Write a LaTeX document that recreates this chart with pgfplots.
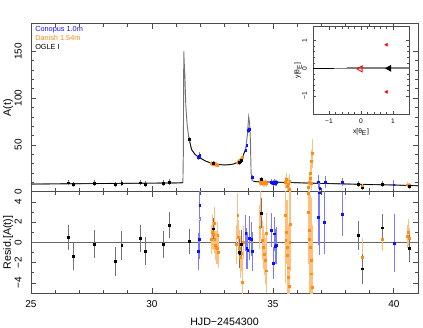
\documentclass[border=0pt]{standalone}
\usepackage{fontspec}
\setmainfont{Liberation Sans}
\usepackage{pgfplots}
\pgfplotsset{compat=1.18}
\usepackage{pgfplotstable}

\definecolor{conblue}{RGB}{15,15,255}
\definecolor{danorange}{RGB}{255,140,20}

% model light curve
\pgfplotstableread{
x A
25.0 8.2
26.0 8.4
27.0 8.6
28.0 8.8
29.0 9.0
30.0 9.2
31.0 9.4
31.28 9.6
31.30 45
31.31 120
31.32 150
31.33 140
31.36 125
31.40 92
31.46 70
31.53 57
31.64 45
31.78 40
31.90 37.5
32.0 36
32.2 33
32.4 31
32.6 29.8
32.8 29.0
33.0 28.6
33.2 28.9
33.4 29.8
33.57 32
33.7 35.5
33.78 39.3
33.85 44
33.89 48
33.95 62
34.0 80
34.04 73
34.07 55
34.10 20
34.13 12.5
34.2 11.2
34.3 10.7
35.0 10.3
36.0 9.6
37.0 8.9
38.0 8.3
39.0 7.7
40.0 7.2
41.0 6.4
}\model

\pgfplotsset{
  lcbase/.style={scale only axis, width=290.25pt,
    xmin=25, xmax=41, xtick={25,30,35,40}, minor x tick num=4,
    axis line style={black!70, line width=0.6pt},
    every tick/.style={black!70, line width=0.5pt},
    major tick length=4pt, minor tick length=2.5pt,
    tick label style={font=\fontsize{7.5}{8}\selectfont},
    label style={font=\fontsize{8}{9}\selectfont},
    /pgf/number format/assume math mode=true,
    yticklabel style={rotate=90, anchor=south},
    yticklabel shift=3.5pt, xticklabel shift=1.8pt},
  obsO/.style={only marks, mark=square*, mark size=0.7pt, color=danorange,
    error bars/.cd, y dir=both, y explicit,
    error bar style={danorange!55, line width=0.5pt},
    error mark options={danorange!55, mark size=1.2pt, line width=0.5pt}},
  obsB/.style={only marks, mark=square*, mark size=0.7pt, color=conblue,
    error bars/.cd, y dir=both, y explicit,
    error bar style={conblue!55, line width=0.5pt},
    error mark options={conblue!55, mark size=1.2pt, line width=0.5pt}},
  obsK/.style={only marks, mark=square*, mark size=0.7pt, color=black,
    error bars/.cd, y dir=both, y explicit,
    error bar style={black!55, line width=0.5pt},
    error mark options={black!55, mark size=1.2pt, line width=0.5pt}},
}

\begin{document}
\begin{tikzpicture}
\useasboundingbox (-23.25pt,-101.5pt) rectangle (294pt,143.8pt);

% ---------- light curve ----------
\begin{axis}[lcbase, at={(0,0)}, anchor=south west,
  height=126.3pt, ymin=0, ymax=180,
  ytick={0,50,100,150}, minor y tick num=4,
  xticklabels={},
  ylabel={A(t)},
  ylabel style={at={(axis description cs:-0.0594,0.5)}, anchor=center},
]
\addplot[black!55, line width=0.7pt] table[x=x, y=A] {\model};
\addplot[black, line width=0.5pt, restrict x to domain=25:31.28] table[x=x, y=A] {\model};
\addplot[black, line width=0.5pt, restrict x to domain=31.5:33.93] table[x=x, y=A] {\model};
\addplot[black, line width=0.5pt, restrict x to domain=34.2:41] table[x=x, y=A] {\model};

\addplot[obsO] table[x=x, y=A, y error=e] {
x A e
32.47 30.5 0.8
32.53 29.8 0.8
32.58 30.2 0.8
32.62 29.3 0.8
32.67 29.0 0.8
32.72 28.6 0.8
33.52 31 1
33.58 32 1
33.62 32.5 1
33.66 33.5 1
33.70 34.5 1
33.74 36.5 1
34.46 10.5 2
34.50 9.5 2
34.55 10 2
34.60 9 2
34.65 8.5 2
34.70 9.8 2
34.74 9.2 2
35.50 10 4
35.55 13 5
35.58 6 4
35.62 8.5 5
35.66 3 4
35.70 11 6
36.45 5 5
36.50 10.4 6
36.53 14.7 7
36.56 20 8
36.58 33 10
36.60 9.3 6
36.62 41 14
38.70 5.5 1.5
40.55 7.5 1
40.60 6.5 1
40.65 7 1
};
\addplot[obsB] table[x=x, y=A, y error=e] {
x A e
31.91 36.9 1
31.95 38 1
31.98 39.3 1
33.88 44.7 1
33.92 50 1
34.00 66 1
34.02 67 1
34.15 15 1.5
34.95 10.5 1.5
35.00 9 1.5
35.05 10 1.5
35.10 9.5 1.5
35.15 9.8 1.5
36.87 10.7 6
36.94 3.6 5
37.15 10.4 5
37.86 10.4 3
40.00 7.5 3
};
\addplot[obsK] table[x=x, y=A, y error=e] {
x A e
26.54 9.6 1
26.75 7.9 1
27.60 9.3 1
28.47 7.9 1
28.75 9.3 1
29.53 9.6 1
29.71 8.3 1
30.47 9.3 1
30.71 10.4 1
31.53 56 1
32.53 30.5 1
33.60 31.5 1
33.65 32 1
33.71 34 1
34.53 13 1
38.53 8.2 1.2
38.70 4.3 1.2
39.53 8.2 1.2
40.63 5.4 1.2
};

\node[anchor=north west, inner sep=0pt, align=left, font=\fontsize{5.5}{6.7}\selectfont]
  at (rel axis cs:0.0103,0.983)
  {\textcolor{conblue}{Conopus 1.0m}\\\textcolor{danorange}{Danish 1.54m}\\OGLE I};
\end{axis}

% ---------- residuals ----------
\begin{axis}[lcbase, at={(0,0)}, anchor=north west,
  height=76pt, ymin=-5, ymax=5,
  ytick={-4,-2,0,2,4}, yticklabels={−4,−2,0,2,4}, minor y tick num=1,
  xticklabels={25,30,35,40},
  xlabel={HJD−2454300},
  xlabel style={at={(axis description cs:0.5,-0.286)}, anchor=center},
  ylabel={Resid.[A(t)]},
  ylabel style={at={(axis description cs:-0.0594,0.5)}, anchor=center},
]
\addplot[black!60, line width=0.6pt] coordinates {(25,0) (41,0)};

\addplot[obsO] table[x=x, y=r, y error=e] {
x r e
32.47 0.3 1.3
32.50 1.0 1.5
32.55 0.8 1.4
32.58 1.9 1.4
32.60 0.35 1.2
32.63 -0.3 1.3
32.67 -0.5 1.5
32.70 -0.6 1.4
32.72 0.7 1.2
32.74 -1.0 1.4
33.50 -0.2 1.8
33.55 2.7 2.0
33.58 0.5 1.6
33.62 -0.6 1.7
33.66 -1.45 1.9
33.70 -1.1 1.6
33.73 -3.9 2.2
33.76 0.0 1.5
34.46 1.5 2.0
34.50 2.7 2.2
34.55 0.2 1.8
34.60 -0.5 2.0
34.64 -1.2 1.9
34.68 -1.8 2.1
34.72 -2.8 2.0
34.74 0.9 1.8
35.50 2.7 3.5
35.53 0.2 4
35.56 1.0 3
35.58 -0.5 4.5
35.60 -1.3 5
35.62 -2.5 4
35.65 -3.4 5
35.68 -4.3 4
35.70 0.0 6
35.72 1.8 4.5
36.45 4.85 5
36.48 3.0 5
36.50 0.3 4
36.52 1.2 6
36.55 -0.5 5
36.57 -1.8 6
36.60 -3.1 5
36.63 -4.4 6
38.70 -1.5 1.8
39.53 0.3 1.0
40.55 0.6 1.0
40.60 1.0 1.2
40.65 0.4 0.9
};
\addplot[obsB] table[x=x, y=r, y error=e] {
x r e
31.91 -0.9 1.7
31.95 0.3 1.8
31.98 3.7 1.4
33.88 0.9 1.6
33.92 -0.6 1.9
33.96 -0.8 1.7
34.02 0.4 2.0
34.10 0.35 1.5
34.14 -0.9 1.8
34.95 1.2 1.5
35.00 -2.05 1.4
35.05 0.85 1.5
35.10 -0.4 1.6
35.15 -0.3 1.7
36.87 2.5 2.6
36.92 4.9 6
37.12 2.0 3.0
37.88 2.8 2.0
40.01 -0.1 2.7
};
\addplot[obsK] table[x=x, y=r, y error=e] {
x r e
26.54 0.5 1.1
26.75 -1.4 1.2
27.60 -0.15 1.2
28.47 -1.9 1.3
28.75 -0.3 1.3
29.53 0.4 1.2
29.71 -0.85 1.2
30.47 -0.2 1.2
30.71 1.7 1.1
31.54 0.1 1.1
32.53 1.35 0.9
33.60 -1.0 1.2
33.63 -1.05 1.3
33.71 -0.15 1.2
34.53 2.9 1.3
38.53 0.7 1.3
38.70 -2.6 1.3
39.53 1.45 1.2
40.63 -0.6 1.2
};
\end{axis}

% ---------- inset: source trajectory and caustics ----------
\begin{axis}[scale only axis, at={(211.5pt,123.75pt)}, anchor=north west,
  width=72pt, height=65.5pt,
  xmin=-1.5, xmax=1.5, ymin=-1.65, ymax=1.5,
  xtick={-1,0,1}, xticklabels={−1,0,1},
  ytick={-1,0,1}, yticklabels={−1,0,1},
  minor tick num=4,
  axis background/.style={fill=white},
  axis line style={black!70, line width=0.5pt},
  every tick/.style={black!70, line width=0.4pt},
  major tick length=2.5pt, minor tick length=1.5pt,
  tick label style={font=\fontsize{5}{6}\selectfont},
  label style={font=\fontsize{5}{6}\selectfont},
  yticklabel style={rotate=90, anchor=south},
  yticklabel shift=1pt,
  xlabel={x[θ\textsubscript{E}]}, ylabel={y[θ\textsubscript{E}]},
  xlabel style={at={(axis description cs:0.5,-0.206)}, anchor=center},
  ylabel style={at={(axis description cs:-0.156,0.5)}, anchor=center},
]
\addplot[black, line width=0.6pt] coordinates {(-1.5,0) (-0.85,0)};
\addplot[black!50, line width=0.6pt] coordinates {(-0.85,0) (-0.45,0)};
\addplot[black!50, line width=1.4pt] coordinates {(-0.45,0) (1.5,0)};
\addplot[only marks, mark=triangle, red, line width=0.6pt, mark size=2.6pt,
  mark options={rotate=90}] coordinates {(-0.02,-0.02)};
\addplot[only marks, mark=triangle*, red, mark size=1.3pt,
  mark options={rotate=90}] coordinates {(0.8,0.85) (0.8,-0.85)};
\addplot[only marks, mark=triangle*, black, mark size=2.6pt,
  mark options={rotate=90}] coordinates {(0.88,0)};
\end{axis}
\end{tikzpicture}
\end{document}
